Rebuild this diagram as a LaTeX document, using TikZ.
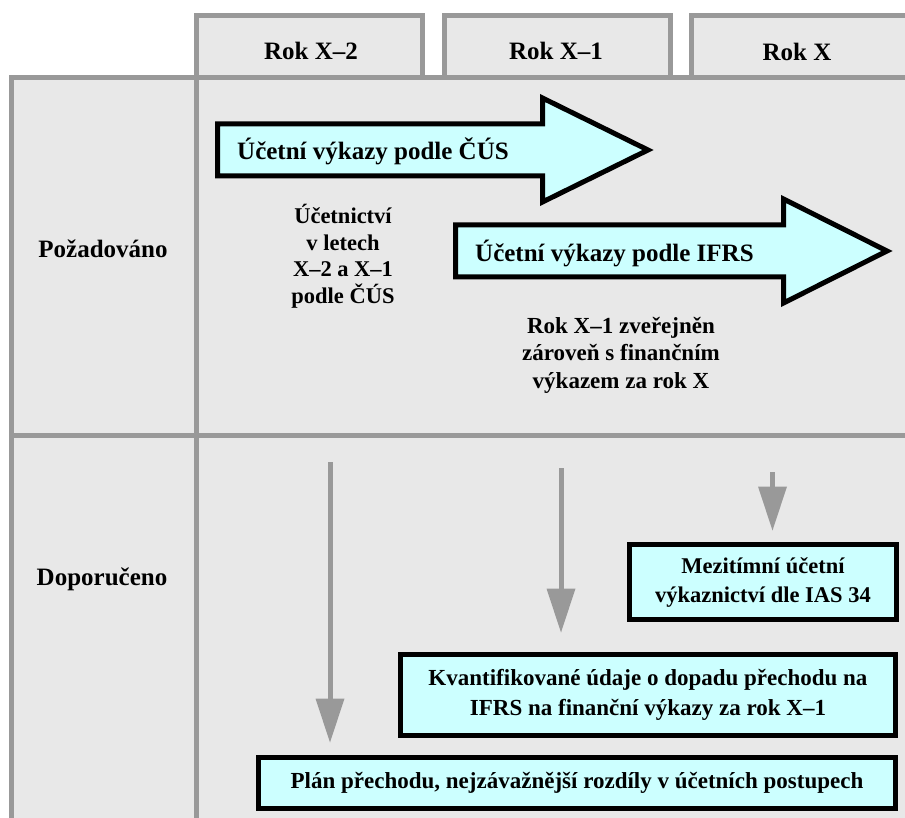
\documentclass[tikz,border=0pt]{standalone}
\usepackage{fontspec}
\setmainfont{Liberation Serif}
\usetikzlibrary{arrows.meta}
\definecolor{gridgray}{HTML}{999999}
\definecolor{cellfill}{HTML}{E8E8E8}
\definecolor{boxfill}{HTML}{CCFFFF}
\tikzset{
  cell/.style={draw=gridgray, line width=5pt, fill=cellfill},
  gridline/.style={draw=gridgray, line width=5pt},
  lbl/.style={font=\fontsize{25}{26}\selectfont\bfseries, align=center, inner sep=0pt},
  note/.style={font=\fontsize{22.5}{26.5}\selectfont\bfseries, align=center, inner sep=0pt},
  infobox/.style={draw=black, line width=5pt, fill=boxfill, inner sep=0pt,
    font=\fontsize{23}{30}\selectfont\bfseries, align=center},
  bigarrow/.style={draw=black, line width=5pt, fill=boxfill, miter limit=10},
  downarrow/.style={draw=gridgray, line width=5pt,
    -{Triangle[width=29pt,length=44pt,line width=0pt]}},
}
\begin{document}
\begin{tikzpicture}[x=1pt, y=-1pt]
\useasboundingbox (0,0) rectangle (905,818);
\fill[white] (0,0) rectangle (905,818);

% year headers
\draw[cell] (196,15.5) rectangle (422,77.5);
\draw[cell] (444,15.5) rectangle (670,77.5);
\draw[cell] (691,15.5) rectangle (930,77.5);
\node[lbl] (y2) at (311,51) {Rok X–2};
\node[lbl] (y1) at (556,51) {Rok X–1};
\node[lbl] (y0) at (797,52) {Rok X};

% main table
\draw[cell] (11.5,77.5) rectangle (930,840);
\draw[gridline] (196,77.5) -- (196,840);
\draw[gridline] (11.5,435) -- (930,435);
\node[lbl] (req) at (103,249) {Požadováno};
\node[lbl] (rec) at (102,579) {Doporučeno};

% required statements
\draw[bigarrow] (217.5,124) -- (542.5,124) -- (542.5,98) -- (648,150)
  -- (542.5,202) -- (542.5,176) -- (217.5,176) -- cycle;
\node[lbl, anchor=west] (cus) at (237,151) {Účetní výkazy podle ČÚS};
\draw[bigarrow] (455.5,225) -- (783.5,225) -- (783.5,199) -- (887,251)
  -- (783.5,303) -- (783.5,277) -- (455.5,277) -- cycle;
\node[lbl, anchor=west] (ifrs) at (475,253) {Účetní výkazy podle IFRS};

\node[note] (acc) at (343,256) {Účetnictví\\v letech\\X–2 a X–1\\podle ČÚS};
\node[note, font=\fontsize{23}{27.5}\selectfont\bfseries] (pub) at (621,355)
  {Rok X–1 zveřejněn\\zároveň s finančním\\výkazem za rok X};

% recommended steps
\node[infobox, font=\fontsize{22.5}{29}\selectfont\bfseries,
  minimum width=267pt, minimum height=75pt] (mezi) at (763,582)
  {Mezitímní účetní\\výkaznictví dle IAS 34};
\node[infobox, minimum width=495pt, minimum height=81pt] (kvant) at (648,695)
  {Kvantifikované údaje o dopadu přechodu na\\IFRS na finanční výkazy za rok X–1};
\node[infobox, minimum width=637pt, minimum height=51pt] (plan) at (577,783)
  {Plán přechodu, nejzávažnější rozdíly v účetních postupech};

\coordinate (d1) at (330,462);
\coordinate (d2) at (561,468);
\coordinate (d3) at (772.5,472);
\draw[downarrow, shorten >=12.5pt] (d1) -- (d1 |- plan.north);
\draw[downarrow, shorten >=19.5pt] (d2) -- (d2 |- kvant.north);
\draw[downarrow, shorten >=11.5pt] (d3) -- (d3 |- mezi.north);
\end{tikzpicture}
\end{document}
